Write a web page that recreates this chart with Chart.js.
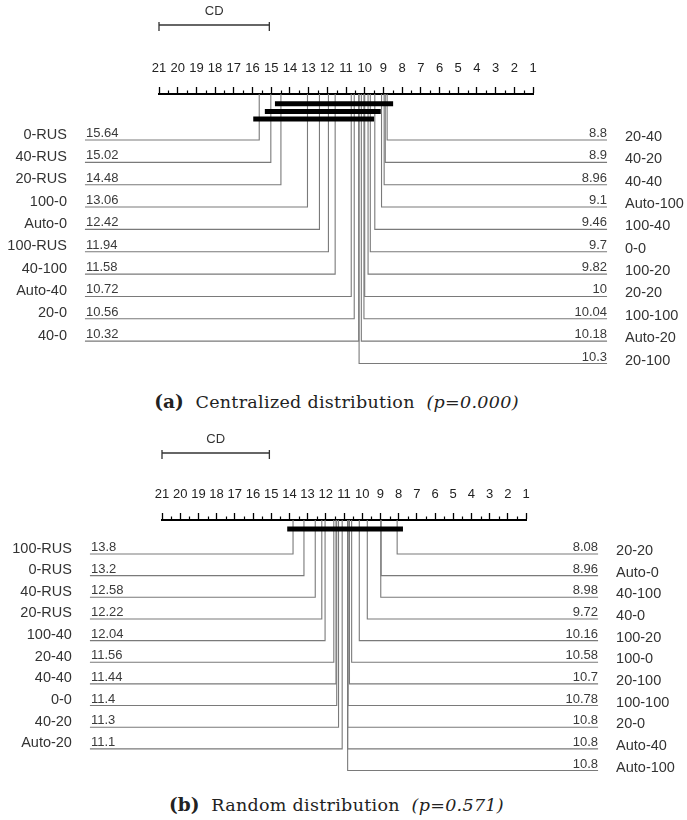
<!DOCTYPE html>
<html>
<head>
<meta charset="utf-8">
<script src="https://cdn.jsdelivr.net/npm/chart.js@4.4.1/dist/chart.umd.min.js"></script>
<style>
  body { margin:0; background:#fff; width:687px; height:820px; position:relative; overflow:hidden; }
  canvas { position:absolute; left:0; }
  .cap { position:absolute; left:0; width:673px; text-align:center; line-height:22px;
         font-family:"DejaVu Serif", serif; font-size:17.5px; letter-spacing:0.3px; color:#222; }
  .cap b { font-size:18.5px; letter-spacing:0; }
</style>
</head>
<body>
<canvas id="cdA" width="687" height="380" style="top:0px"></canvas>
<div class="cap" style="top:391px"><b>(a)</b>&nbsp; Centralized distribution&nbsp; <i>(p=0.000)</i></div>
<canvas id="cdB" width="687" height="375" style="top:415px"></canvas>
<div class="cap" style="top:794px"><b>(b)</b>&nbsp; Random distribution&nbsp; <i>(p=0.571)</i></div>
<script>
// average ranks, panel (a) centralized distribution
const leftNamesA  = ['0-RUS','40-RUS','20-RUS','100-0','Auto-0','100-RUS','40-100','Auto-40','20-0','40-0'];
const leftRanksA  = [15.64, 15.02, 14.48, 13.06, 12.42, 11.94, 11.58, 10.72, 10.56, 10.32];
const rightNamesA = ['20-40','40-20','40-40','Auto-100','100-40','0-0','100-20','20-20','100-100','Auto-20','20-100'];
const rightRanksA = [8.8, 8.9, 8.96, 9.1, 9.46, 9.7, 9.82, 10, 10.04, 10.18, 10.3];
const cliquesA    = [[14.48, 8.8], [15.02, 9.46], [15.64, 9.82]];

// average ranks, panel (b) random distribution
const leftNamesB  = ['100-RUS','0-RUS','40-RUS','20-RUS','100-40','20-40','40-40','0-0','40-20','Auto-20'];
const leftRanksB  = [13.8, 13.2, 12.58, 12.22, 12.04, 11.56, 11.44, 11.4, 11.3, 11.1];
const rightNamesB = ['20-20','Auto-0','40-100','40-0','100-20','100-0','20-100','100-100','20-0','Auto-40','Auto-100'];
const rightRanksB = [8.08, 8.96, 8.98, 9.72, 10.16, 10.58, 10.7, 10.78, 10.8, 10.8, 10.8];
const cliquesB    = [[13.8, 8.08]];

const cd = 5.9;        // critical difference
const rankLo = 1, rankHi = 21;

const grey = '#7a7a7a';
const sans = 'Liberation Sans';

// names, values, half ticks and the CD label
const cdText = {
  id: 'cdText',
  afterDraw(chart, args, o) {
    const ctx = chart.ctx, x = chart.scales.x, y = chart.scales.y;
    const top = chart.chartArea.top;
    ctx.save();
    ctx.strokeStyle = '#000'; ctx.lineWidth = 1.2;
    for (let v = rankLo + 0.5; v < rankHi; v += 1) {
      const px = Math.round(x.getPixelForValue(v)) + 0.5;
      ctx.beginPath(); ctx.moveTo(px, top); ctx.lineTo(px, top - 3.5); ctx.stroke();
    }
    ctx.fillStyle = '#333';
    ctx.font = '13px "' + sans + '"';
    ctx.textAlign = 'center'; ctx.textBaseline = 'bottom';
    ctx.fillText('CD', (x.getPixelForValue(rankHi) + x.getPixelForValue(rankHi - cd)) / 2,
                 y.getPixelForValue(o.cdY) - 7);

    const xl = x.getPixelForValue(o.endL), xr = x.getPixelForValue(o.endR);
    o.leftNames.forEach((n, i) => {
      const py = y.getPixelForValue(o.rowY(i));
      ctx.font = '14.5px "' + sans + '"'; ctx.fillStyle = '#333';
      ctx.textAlign = 'right'; ctx.textBaseline = 'middle';
      ctx.fillText(n, xl - 18, py - 5.5);
      ctx.font = '13px "' + sans + '"'; ctx.fillStyle = '#3a3a3a';
      ctx.textAlign = 'left'; ctx.textBaseline = 'alphabetic';
      ctx.fillText(String(o.leftRanks[i]), xl + 1, py - 3);
    });
    o.rightNames.forEach((n, i) => {
      const py = y.getPixelForValue(o.rowY(i));
      ctx.font = '14.5px "' + sans + '"'; ctx.fillStyle = '#333';
      ctx.textAlign = 'left'; ctx.textBaseline = 'middle';
      ctx.fillText(n, xr + 18, py - 3);
      ctx.font = '13px "' + sans + '"'; ctx.fillStyle = '#3a3a3a';
      ctx.textAlign = 'right'; ctx.textBaseline = 'alphabetic';
      ctx.fillText(String(o.rightRanks[i]), xr, py - 3);
    });
    ctx.restore();
  }
};

function makeCD(id, d, lay) {
  const toY = px => px / lay.rowPx;            // pixels below the axis -> y units
  const rowY = i => toY(lay.row0Px) + i;
  const endL = 24.96, endR = -2.96;
  const base = { showLine: true, pointRadius: 0, tension: 0, fill: false, clip: false,
                 borderJoinStyle: 'miter', borderCapStyle: 'butt' };
  const datasets = [];

  // cliques of methods that are not significantly different
  d.cliques.forEach((c, i) => {
    const cy = toY(lay.cliqueTopPx + i * lay.cliqueStepPx);
    datasets.push(Object.assign({}, base, {
      data: [{x: c[0] + 0.32, y: cy}, {x: c[1] - 0.32, y: cy}],
      borderColor: '#000', borderWidth: 5
    }));
  });

  // CD bar
  const cdY = toY(lay.cdPx);
  datasets.push(Object.assign({}, base, {
    data: [{x: rankHi, y: cdY}, {x: rankHi - cd, y: cdY}], borderColor: '#333', borderWidth: 1.3 }));
  [rankHi, rankHi - cd].forEach(v => datasets.push(Object.assign({}, base, {
    data: [{x: v, y: toY(lay.cdPx - 3)}, {x: v, y: toY(lay.cdPx + 6)}], borderColor: '#333', borderWidth: 1.3 })));

  // connectors axis -> row
  d.leftRanks.forEach((r, i) => datasets.push(Object.assign({}, base, {
    data: [{x: r, y: 0}, {x: r, y: rowY(i)}, {x: endL, y: rowY(i)}], borderColor: grey, borderWidth: 1.1 })));
  d.rightRanks.forEach((r, i) => datasets.push(Object.assign({}, base, {
    data: [{x: r, y: 0}, {x: r, y: rowY(i)}, {x: endR, y: rowY(i)}], borderColor: grey, borderWidth: 1.1 })));

  return new Chart(document.getElementById(id), {
    type: 'scatter',
    data: { datasets },
    options: {
      responsive: false, animation: false, events: [],
      layout: { padding: { left: lay.padL, right: lay.padR, top: 0, bottom: lay.padB } },
      scales: {
        x: {
          type: 'linear', position: 'top', min: rankLo, max: rankHi, reverse: true,
          afterFit: s => { s.height = lay.axisY; },
          ticks: { stepSize: 1, autoSkip: false, maxRotation: 0, padding: lay.tickPad,
                   color: '#222', font: { family: sans, size: 13 } },
          grid: { drawOnChartArea: false, tickLength: 7, tickColor: '#000', tickWidth: 1.3 },
          border: { color: '#000', width: 2 }
        },
        y: { type: 'linear', display: false, reverse: true, min: 0,
             max: (lay.H - lay.axisY - lay.padB) / lay.rowPx }
      },
      plugins: {
        legend: { display: false }, tooltip: { enabled: false },
        cdText: { leftNames: d.leftNames, leftRanks: d.leftRanks, rightNames: d.rightNames,
                  rightRanks: d.rightRanks, rowY, cdY, endL, endR }
      }
    },
    plugins: [cdText]
  });
}

makeCD('cdA',
  { leftNames: leftNamesA, leftRanks: leftRanksA, rightNames: rightNamesA, rightRanks: rightRanksA, cliques: cliquesA },
  { padL: 159, padR: 154, axisY: 94, tickPad: 11, rowPx: 22.35, row0Px: 46,
    cliqueTopPx: 9.7, cliqueStepPx: 7.7, cdPx: -69, H: 380, padB: 6 });

makeCD('cdB',
  { leftNames: leftNamesB, leftRanks: leftRanksB, rightNames: rightNamesB, rightRanks: rightRanksB, cliques: cliquesB },
  { padL: 162, padR: 161, axisY: 105, tickPad: 10.5, rowPx: 21.65, row0Px: 34,
    cliqueTopPx: 9, cliqueStepPx: 7.7, cdPx: -67, H: 375, padB: 10 });
</script>
</body>
</html>
